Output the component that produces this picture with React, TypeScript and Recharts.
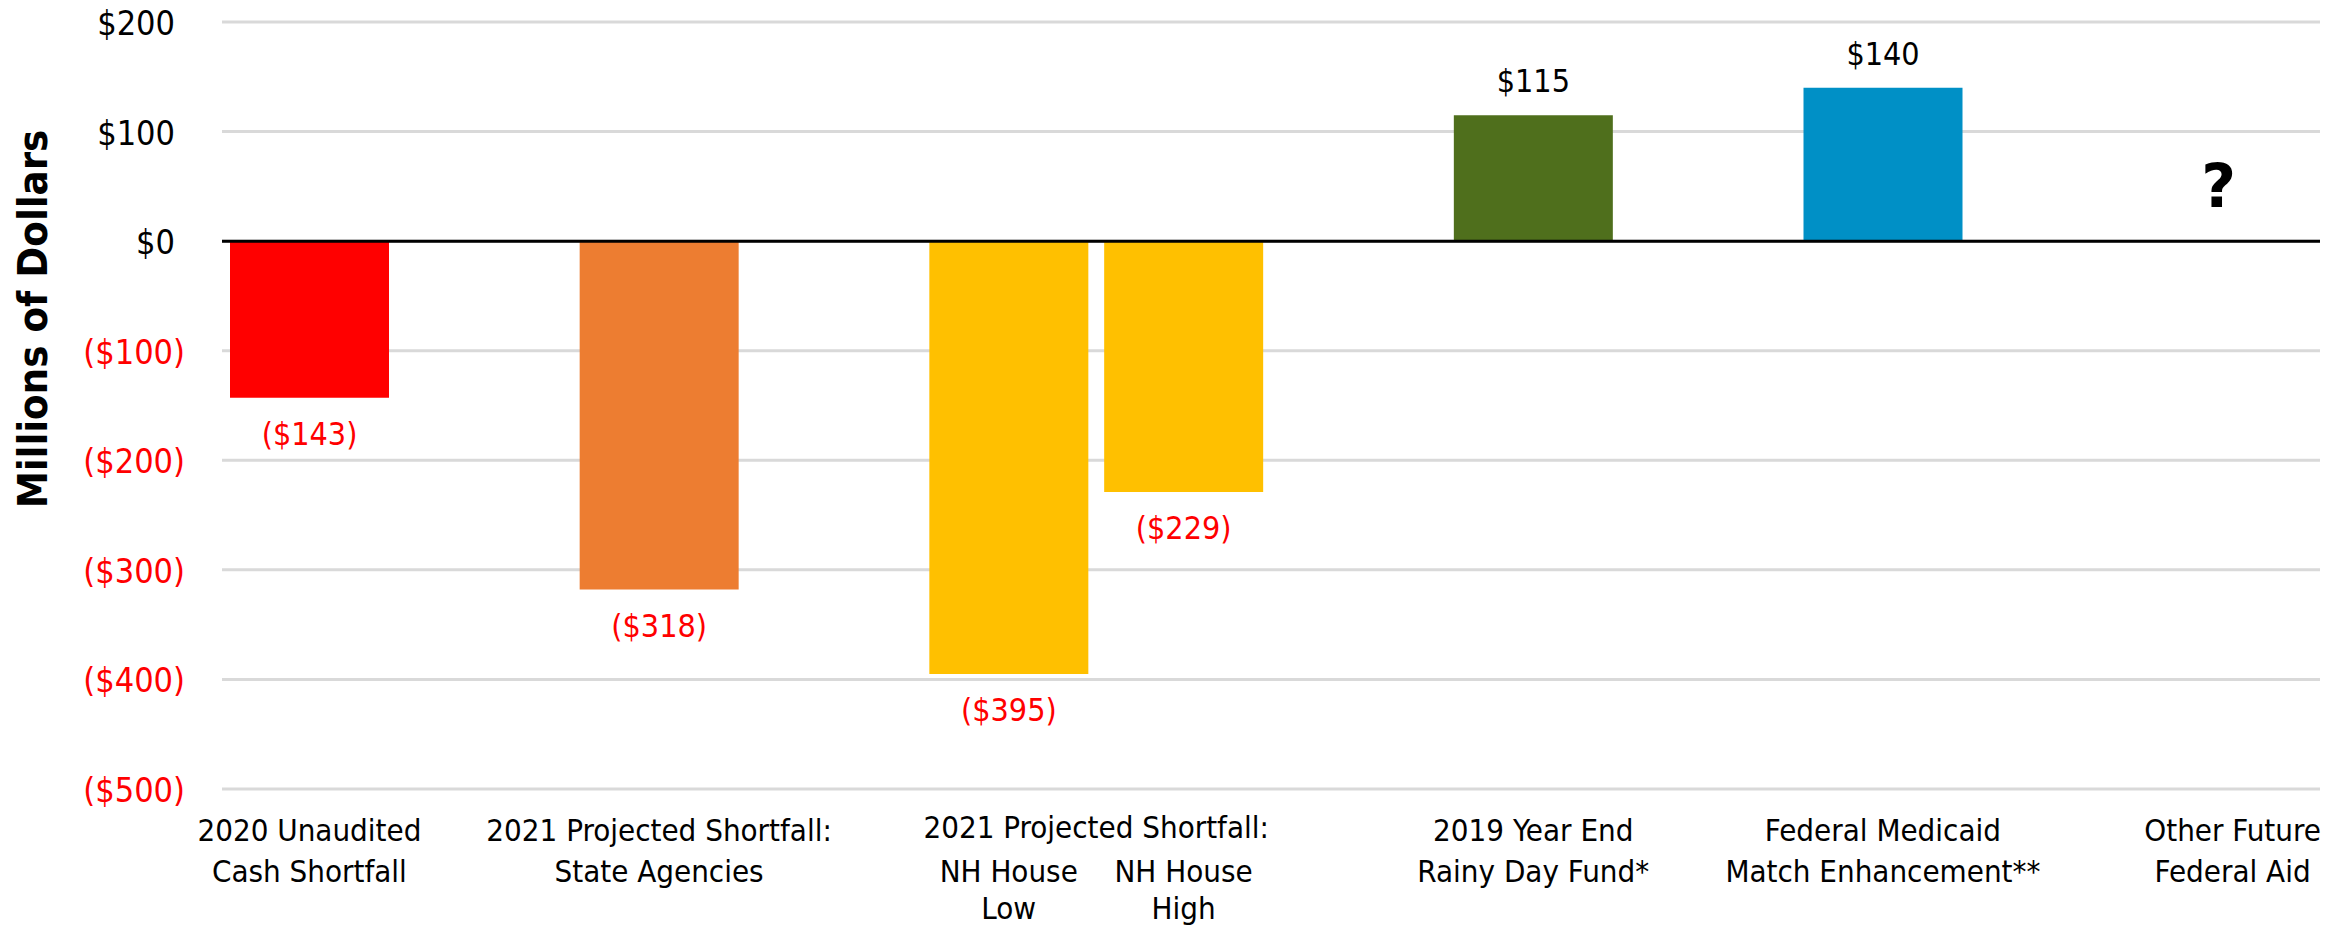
import React from "react";
import {
  BarChart, Bar, XAxis, YAxis, CartesianGrid, Cell, LabelList,
  ReferenceLine, ReferenceDot,
} from "recharts";

// one slot per column in the original sheet; empty slots are spacers
const categoryKeys = [
  "unaudited2020", "gap1", "stateAgencies", "gap2", "nhLow", "nhHigh",
  "gap3", "rainyDay", "gap4", "medicaid", "gap5", "otherAid",
];
const amounts: (number | null)[] = [-143, null, -318, null, -395, -229, null, 115, null, 140, null, null];
const categoryLines: string[][] = [
  ["2020 Unaudited", "Cash Shortfall"],
  [],
  ["2021 Projected Shortfall:", "State Agencies"],
  [],
  ["NH House", "Low"],
  ["NH House", "High"],
  [],
  ["2019 Year End", "Rainy Day Fund*"],
  [],
  ["Federal Medicaid", "Match Enhancement**"],
  [],
  ["Other Future", "Federal Aid"],
];
const groupHeader = "2021 Projected Shortfall:";
const groupKeys = ["nhLow", "nhHigh"];
const unknownKey = "otherAid";
const unknownMark = "?";
const unknownLevel = 51;
const yTicks = [-500, -400, -300, -200, -100, 0, 100, 200];
const barColors = ["#FF0000", "", "#ED7D31", "", "#FFC000", "#FFC000", "", "#4F6F1C", "", "#0090C6", "", ""];

const data = categoryKeys.map((key, i) => ({ key, amount: amounts[i] }));

const W = 2351;
const H = 926;
const M = { top: 22, right: 31, left: 0, bottom: 0 };
const Y_W = 222;
const X_H = 137;
const BAND = (W - M.left - M.right - Y_W) / categoryKeys.length;
const FONT = "'DejaVu Sans Condensed', 'DejaVu Sans', Tahoma, sans-serif";

const money = (v: number) => (v < 0 ? `($${Math.abs(v)})` : `$${v}`);

function YTick(props: any) {
  const { x, y, payload } = props;
  const v = payload.value as number;
  const neg = v < 0;
  return (
    <text x={neg ? x - 29 : x - 39} y={y + 13} textAnchor="end" fontStretch="condensed"
      fontFamily={FONT} fontSize={34} fill={neg ? "#FF0000" : "#000"}>
      {money(v)}
    </text>
  );
}

function XTick(props: any) {
  const { x, y, payload } = props;
  const i = categoryKeys.indexOf(payload.value);
  const lines = categoryLines[i] || [];
  const inGroup = groupKeys.includes(payload.value);
  const txt = (t: string, tx: number, ty: number, k: number | string) => (
    <text key={k} x={tx} y={ty} textAnchor="middle" fontStretch="condensed"
      fontFamily={FONT} fontSize={31} fill="#000">{t}</text>
  );
  return (
    <g>
      {payload.value === groupKeys[0] && txt(groupHeader, x + BAND / 2, y + 41, "h")}
      {lines.map((t, k) =>
        txt(t, x, inGroup ? y + 85 + k * 37 : y + 44 + k * 41, k))}
    </g>
  );
}

function ValueLabel(props: any) {
  const { x, y, width, height, value } = props;
  if (value == null) return null;
  const neg = value < 0;
  const cx = x + width / 2;
  const bottom = Math.max(y, y + height);
  const top = Math.min(y, y + height);
  return (
    <text x={cx} y={neg ? bottom + 47 : top - 23} textAnchor="middle" fontStretch="condensed"
      fontFamily={FONT} fontSize={32} fill={neg ? "#FF0000" : "#000"}>
      {money(value)}
    </text>
  );
}

function QuestionMark(props: any) {
  const { viewBox } = props;
  const cx = viewBox.x + (viewBox.width || 0) / 2;
  const cy = viewBox.y + (viewBox.height || 0) / 2;
  return (
    <text x={cx - 14} y={cy} dy="0.36em" textAnchor="middle"
      fontFamily="'DejaVu Sans', sans-serif" fontWeight={700} fontSize={60} fill="#000">
      {unknownMark}
    </text>
  );
}

export default function App() {
  return (
    <div style={{ position: "absolute", left: 0, top: 0, width: W, height: H, background: "#fff" }}>
      <BarChart width={W} height={H} data={data} margin={M}>
        <CartesianGrid vertical={false} stroke="#D9D9D9" strokeWidth={3} />
        <XAxis dataKey="key" interval={0} axisLine={false} tickLine={false} height={X_H} tick={<XTick />} />
        <YAxis domain={[-500, 200]} ticks={yTicks} width={Y_W} axisLine={false} tickLine={false} tick={<YTick />} />
        <Bar dataKey="amount" barSize={159} isAnimationActive={false}>
          {data.map((d, i) => <Cell key={d.key} fill={barColors[i] || "transparent"} />)}
          <LabelList dataKey="amount" content={<ValueLabel />} />
        </Bar>
        <ReferenceLine y={0} stroke="#000" strokeWidth={3} />
        <ReferenceDot x={unknownKey} y={unknownLevel} r={0} fill="none" stroke="none" label={<QuestionMark />} />
      </BarChart>
      <div style={{
        position: "absolute", left: 33, top: 319, transform: "translate(-50%, -50%) rotate(-90deg)",
        whiteSpace: "nowrap", fontFamily: FONT, fontStretch: "condensed",
        fontWeight: 700, fontSize: 41.5, color: "#000", lineHeight: 1,
      }}>
        Millions of Dollars
      </div>
    </div>
  );
}
